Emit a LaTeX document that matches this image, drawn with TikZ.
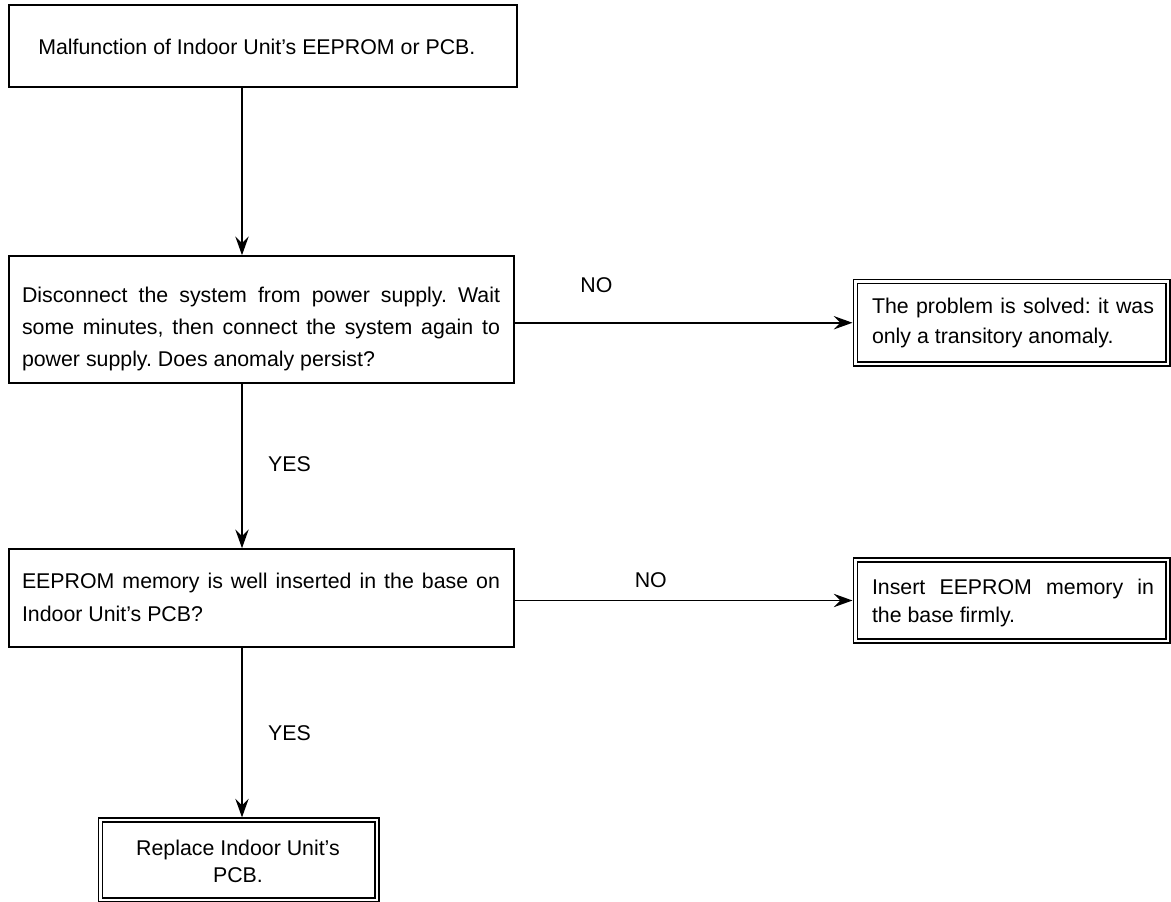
\documentclass[tikz,border=0pt]{standalone}
\usepackage{fontspec}
\setmainfont{Liberation Sans}
\usetikzlibrary{arrows.meta}
\frenchspacing
\begin{document}
\begin{tikzpicture}[x=0.75pt,y=-0.75pt,
  stepbox/.style={draw, line width=1.2pt, inner sep=0pt},
  endbox/.style={draw, double, line width=0.9pt, double distance=2pt, inner sep=0pt},
  txt/.style={inner sep=0pt, align=justify, font=\fontsize{16}{#1}\selectfont},
  lbl/.style={inner sep=0pt, font=\fontsize{16}{18}\selectfont},
  flow/.style={line width=1.3pt, -{Stealth[length=14pt,width=10pt,inset=5pt]}}]
\useasboundingbox (0,0) rectangle (1171,902);
\fill[white] (0,0) rectangle (1171,902);

% boxes
\node[stepbox, line width=1.8pt, minimum width=381pt, minimum height=61.5pt] (b1) at (263,46) {};
\node[stepbox, minimum width=378.75pt, minimum height=95.25pt] (b2) at (261.5,319.5) {};
\node[stepbox, minimum width=378.75pt, minimum height=73.5pt] (b3) at (261.5,598) {};
\node[endbox, minimum width=207.4pt, minimum height=60pt] (b4) at (238.75,860) {};
\node[endbox, minimum width=234.4pt, minimum height=61.9pt] (b5) at (1011.75,322.75) {};
\node[endbox, minimum width=234.4pt, minimum height=60.75pt] (b6) at (1011.75,600.5) {};

% texts
\node[lbl, anchor=west] (t1) at (38,47) {Malfunction of Indoor Unit’s EEPROM or PCB.};
\node[txt=24pt, text width=358.5pt] (t2) at (261,329)
  {Disconnect the system from power supply. Wait\linebreak some minutes, then connect the system again to\linebreak power supply. Does anomaly persist?};
\node[txt=24.75pt, text width=358.5pt] (t3) at (261,597.5)
  {EEPROM memory is well inserted in the base on\linebreak Indoor Unit’s PCB?};
\node[txt=20.25pt, align=center] (t4) at (238,861.5)
  {Replace Indoor Unit’s\\PCB.};
\node[txt=22.5pt, text width=211.5pt] (t5) at (1013,323)
  {The problem is solved: it was\linebreak only a transitory anomaly.};
\node[txt=21pt, text width=211.5pt] (t6) at (1013,603)
  {Insert EEPROM memory in\linebreak the base firmly.};

% connectors
\coordinate (ax) at (242,0);
\draw[flow] (b1.south -| ax) -- (b2.north -| ax);
\draw[flow] (b2.south -| ax) -- node[lbl, pos=0.49, right=19pt] (y1) {YES} (b3.north -| ax);
\draw[flow, shorten >=1.5pt] (b3.south -| ax) -- node[lbl, pos=0.5, right=19pt] (y2) {YES} (b4.north -| ax);
\draw[flow, shorten >=1.8pt] (b2.east |- b5.west) -- node[lbl, pos=0.24, above=22pt] (n1) {NO} (b5.west);
\draw[flow, shorten >=1.8pt] (b3.east |- b6.west) -- node[lbl, pos=0.40, above=9pt] (n2) {NO} (b6.west);
\end{tikzpicture}
\end{document}
